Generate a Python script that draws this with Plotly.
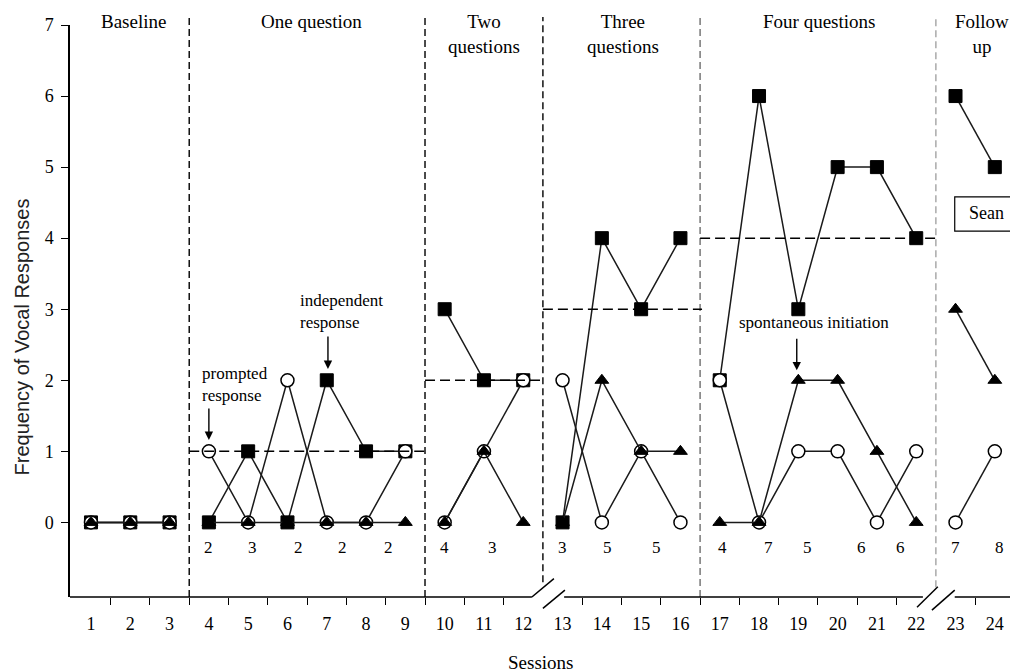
import plotly.graph_objects as go

# ---------------- data ----------------
sessions = list(range(1, 25))
phase_names = ["Baseline", "One question", "Two<br>questions", "Three<br>questions",
               "Four questions", "Follow<br>up"]
phase_last_session = [3, 9, 12, 16, 22, 24]
phase_means = [None, 1, 2, 3, 4, None]

independent = [0, 0, 0, 0, 1, 0, 2, 1, 1, 3, 2, 2, 0, 4, 3, 4, 2, 6, 3, 5, 5, 4, 6, 5]
prompted = [0, 0, 0, 1, 0, 2, 0, 0, 1, 0, 1, 2, 2, 0, 1, 0, 2, 0, 1, 1, 0, 1, 0, 1]
spontaneous = [0, 0, 0, 0, 0, 0, 0, 0, 0, 0, 1, 0, 0, 2, 1, 1, 0, 0, 2, 2, 1, 0, 3, 2]

count_labels = ["2", "3", "2", "2", "2", "4", "3", "3", "5", "5", "4", "7", "5", "6", "6", "7", "8"]
y_ticks = [0, 1, 2, 3, 4, 5, 6, 7]

# ---------------- layout constants ----------------
SERIF = "Liberation Serif, Times New Roman, serif"
SANS = "Liberation Sans, Arial, sans-serif"
X_RANGE = [0.466, 24.59]
Y_RANGE = [-1.05, 7.0]
phase_bounds = [0.5, 3.5, 9.5, 12.5, 16.5, 22.5, 24.5]
phase_line_colors = ["#111", "#111", "#111", "#777", "#aaa"]
phase_line_bottom = [0.0, 0.0, 0.026, 0.0, 0.017]
phase_label_x = [2.07, 6.62, 11.0, 14.54, 19.52, 23.67]
count_label_x = [4.0, 5.12, 6.27, 7.41, 8.56, 10.0, 11.23, 13.0, 14.15, 15.4,
                 17.08, 18.23, 19.24, 20.6, 21.6, 23.0, 24.13]


def with_gaps(values):
    xs, ys = [], []
    for s, v in zip(sessions, values):
        xs.append(s)
        ys.append(v)
        if s in phase_last_session:
            xs.append(None)
            ys.append(None)
    return xs, ys


fig = go.Figure()
line_style = dict(color="#1a1a1a", width=1.5)

xs, ys = with_gaps(independent)
fig.add_trace(go.Scatter(x=xs, y=ys, mode="lines+markers", name="independent",
                         line=line_style,
                         marker=dict(symbol="square", size=13, color="black",
                                     line=dict(color="black", width=1))))
xs, ys = with_gaps(prompted)
fig.add_trace(go.Scatter(x=xs, y=ys, mode="lines+markers", name="prompted",
                         line=line_style,
                         marker=dict(symbol="circle", size=13, color="white",
                                     line=dict(color="black", width=1.5))))
xs, ys = with_gaps(spontaneous)
fig.add_trace(go.Scatter(x=xs, y=ys, mode="lines+markers", name="spontaneous",
                         line=line_style,
                         marker=dict(symbol="triangle-up", size=12, color="black",
                                     line=dict(color="black", width=1))))

shapes = []
# phase change lines
for b, col, yb in zip(phase_bounds[1:-1], phase_line_colors, phase_line_bottom):
    shapes.append(dict(type="line", xref="x", yref="paper", x0=b, x1=b, y0=yb, y1=1.014,
                       line=dict(color=col, width=1.5, dash="7px,4px")))
# phase mean lines
for i, m in enumerate(phase_means):
    if m is None:
        continue
    shapes.append(dict(type="line", xref="x", yref="y", x0=phase_bounds[i], x1=phase_bounds[i + 1] + 0.05,
                       y0=m, y1=m, line=dict(color="black", width=1.5, dash="10px,5px")))
# x axis line with breaks
for x0, x1 in [(X_RANGE[0], 12.22), (13.04, 22.17), (22.98, X_RANGE[1])]:
    shapes.append(dict(type="line", xref="x", yref="paper", x0=x0, x1=x1, y0=0, y1=0,
                       line=dict(color="black", width=1.5)))
for x0, y0, x1, y1 in [(12.22, 0.0, 12.78, 0.032), (12.5, -0.02, 13.06, 0.012),
                       (22.02, -0.018, 22.55, 0.018), (22.4, -0.023, 22.98, 0.012)]:
    shapes.append(dict(type="line", xref="x", yref="paper", x0=x0, x1=x1, y0=y0, y1=y1,
                       line=dict(color="black", width=1.5)))
# Sean box
shapes.append(dict(type="rect", xref="x", yref="y", x0=22.98, x1=24.75, y0=4.1, y1=4.58,
                   line=dict(color="black", width=1.2), fillcolor="white"))

annotations = []
for name, x in zip(phase_names, phase_label_x):
    annotations.append(dict(x=x, y=1.028, xref="x", yref="paper", text=name, showarrow=False,
                            xanchor="center", yanchor="top", align="center",
                            font=dict(family=SERIF, size=19, color="black")))
for t, x in zip(count_labels, count_label_x):
    annotations.append(dict(x=x, y=-0.35, xref="x", yref="y", text=t, showarrow=False,
                            font=dict(family=SERIF, size=17, color="black")))
annotations += [
    dict(x=3.77, y=1.94, xref="x", yref="y", text="prompted<br>response", showarrow=False,
         xanchor="left", yanchor="middle", align="left",
         font=dict(family=SERIF, size=17, color="black")),
    dict(x=4.0, y=1.16, xref="x", yref="y", text="", showarrow=True, ax=0, ay=-33,
         arrowhead=2, arrowsize=1.2, arrowwidth=1.4, arrowcolor="black"),
    dict(x=6.27, y=2.97, xref="x", yref="y", text="independent<br>response", showarrow=False,
         xanchor="left", yanchor="middle", align="left",
         font=dict(family=SERIF, size=17, color="black")),
    dict(x=7.03, y=2.16, xref="x", yref="y", text="", showarrow=True, ax=0, ay=-34,
         arrowhead=2, arrowsize=1.2, arrowwidth=1.4, arrowcolor="black"),
    dict(x=17.44, y=2.81, xref="x", yref="y", text="spontaneous initiation", showarrow=False,
         xanchor="left", yanchor="middle", align="left",
         font=dict(family=SERIF, size=17, color="black")),
    dict(x=18.96, y=2.14, xref="x", yref="y", text="", showarrow=True, ax=0, ay=-33,
         arrowhead=2, arrowsize=1.2, arrowwidth=1.4, arrowcolor="black"),
    dict(x=23.8, y=4.36, xref="x", yref="y", text="Sean", showarrow=False,
         font=dict(family=SERIF, size=18, color="black")),
    dict(x=-0.051, y=0.455, xref="paper", yref="paper", text="Frequency of Vocal Responses",
         textangle=-90, showarrow=False, xanchor="center", yanchor="middle",
         font=dict(family=SANS, size=20, color="#222")),
    dict(x=0.496, y=-0.114, xref="paper", yref="paper", text="Sessions", showarrow=False,
         xanchor="center", yanchor="middle",
         font=dict(family=SERIF, size=19, color="black")),
]

# The page body has an 8px margin, so the figure is shrunk/offset to land on the
# reference pixel positions inside the 1018x672 window.
fig.update_layout(
    width=1010, height=664,
    margin=dict(l=62, r=0, t=17, b=75),
    paper_bgcolor="white", plot_bgcolor="white",
    showlegend=False,
    shapes=shapes, annotations=annotations,
    xaxis=dict(range=X_RANGE, showgrid=False, zeroline=False, showline=False,
               tickmode="array", tickvals=sessions, ticktext=[str(s) for s in sessions],
               ticks="", ticklabelstandoff=14,
               tickfont=dict(family=SERIF, size=18, color="black"),
               minor=dict(tickmode="array",
                          tickvals=[s + 0.5 for s in sessions if s + 0.5 not in (12.5, 22.5)],
                          ticks="outside", ticklen=7, tickwidth=1.3, tickcolor="black",
                          showgrid=False)),
    yaxis=dict(range=Y_RANGE, showgrid=False, zeroline=False, showline=True,
               linecolor="black", linewidth=1.5,
               tickmode="array", tickvals=y_ticks, ticks="outside", ticklen=7,
               tickwidth=1.3, tickcolor="black", ticklabelstandoff=4,
               tickfont=dict(family=SERIF, size=18, color="black")),
)

fig.write_html("out.html")
